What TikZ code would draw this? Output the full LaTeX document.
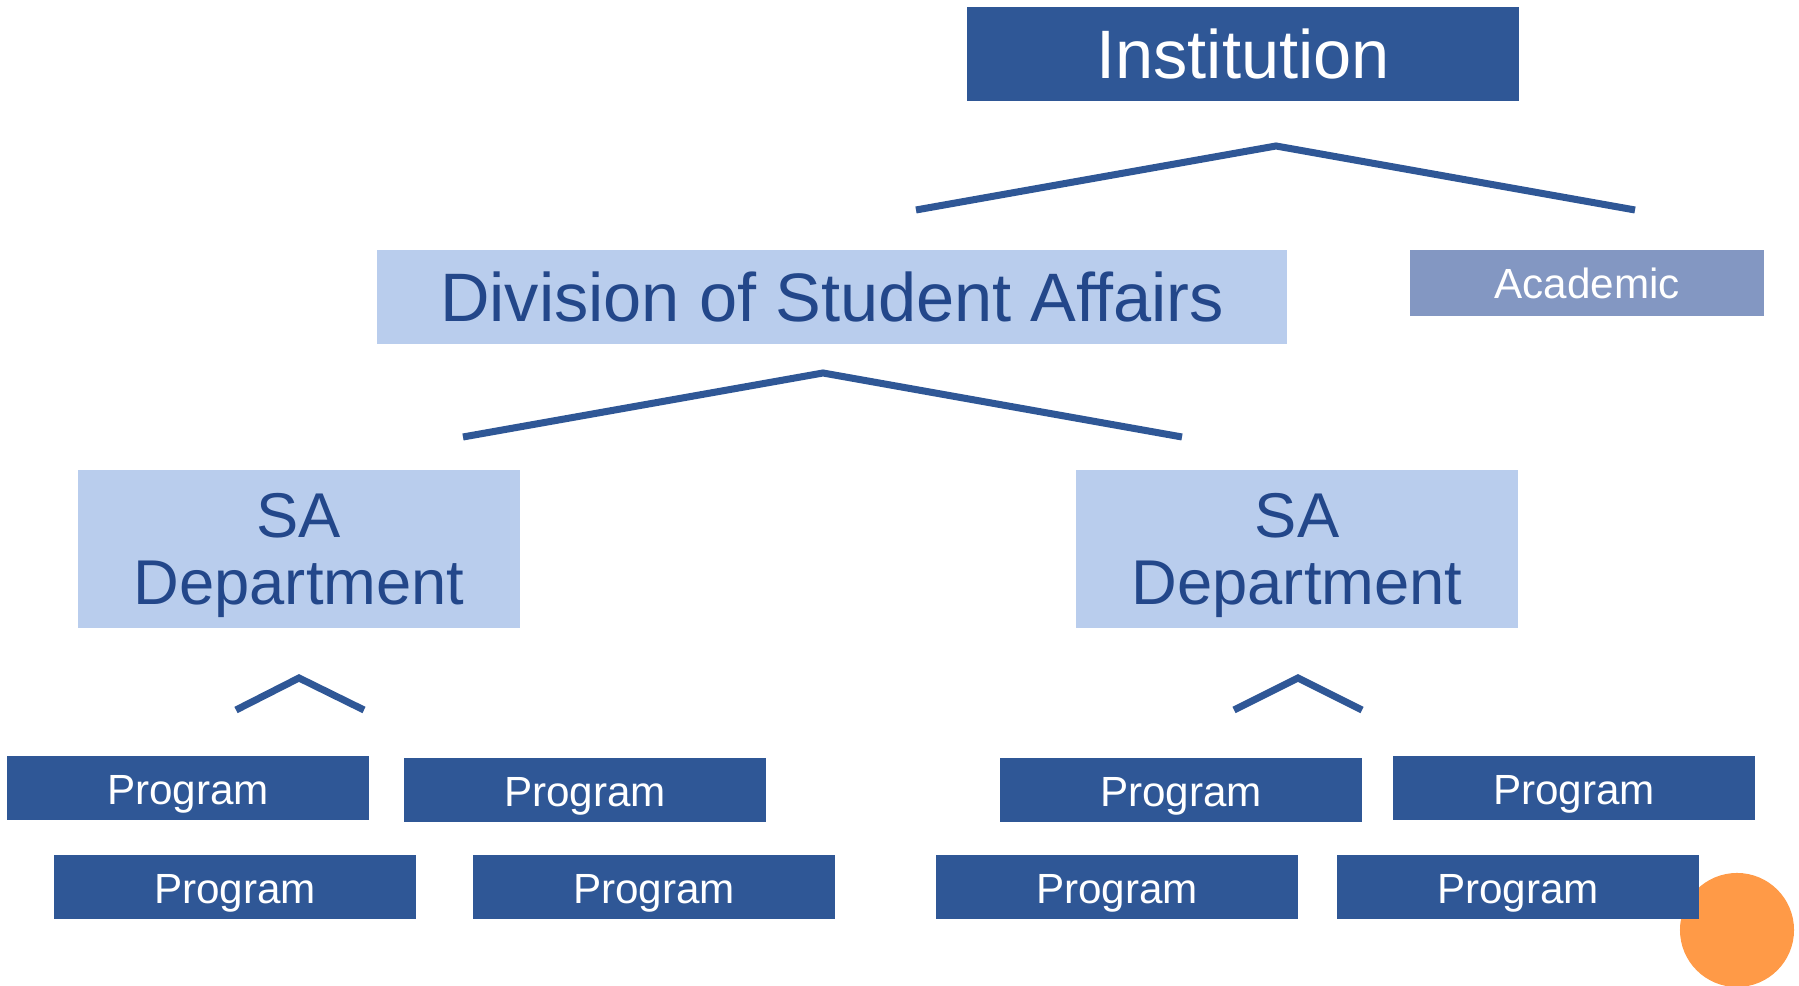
\documentclass[tikz,border=0pt]{standalone}
\usepackage{fontspec}
\setmainfont{Liberation Sans}
\definecolor{orgdark}{HTML}{2F5796}
\definecolor{orglight}{HTML}{B9CDED}
\definecolor{orgmid}{HTML}{8397C2}
\definecolor{orgtext}{HTML}{23478A}
\definecolor{dotorange}{HTML}{FF9A47}
\begin{document}
\begin{tikzpicture}[x=0.01cm,y=-0.01cm,
        darkbox/.style={fill=orgdark,text=white,inner sep=0pt},
        lightbox/.style={fill=orglight,text=orgtext,inner sep=0pt},
        prog/.style={darkbox,minimum width=3.61cm,minimum height=0.64cm,text height=9.4pt,text depth=0pt,font=\fontsize{12}{14}\selectfont},
        dept/.style={lightbox,minimum width=4.42cm,minimum height=1.58cm,align=center,text depth=0pt,font=\fontsize{18}{19}\selectfont},
        link/.style={draw=orgdark,line width=2pt}]
            \useasboundingbox(0,0)rectangle(1799,986);
            \fill[dotorange](1737,930)circle[radius=0.57cm];
            % top level
            \node[darkbox,minimum width=5.51cm,minimum height=0.94cm,font=\fontsize{19.5}{22}\selectfont]at(1243,54)(inst){Institution};
            \node[lightbox,minimum width=9.10cm,minimum height=0.93cm,font=\fontsize{19.5}{22}\selectfont]at(832,297)(div){Division of Student Affairs};
            \node[fill=orgmid,text=white,inner sep=0pt,minimum width=3.53cm,minimum height=0.65cm,font=\fontsize{12}{14}\selectfont]at(1587,283)(acad){Academic};
            \node[dept]at(299,549)(deptL){SA\\Department};
            \node[dept]at(1297,549)(deptR){SA\\Department};
            % programs
            \node[prog]at(188,788)(progLa){Program};
            \node[prog]at(585,790)(progLb){Program};
            \node[prog]at(235,887)(progLc){Program};
            \node[prog]at(654,887)(progLd){Program};
            \node[prog]at(1181,790)(progRa){Program};
            \node[prog]at(1574,788)(progRb){Program};
            \node[prog]at(1117,887)(progRc){Program};
            \node[prog]at(1518,887)(progRd){Program};
            % connectors
            \coordinate(instTop)at(1276,146);
            \coordinate(instL)at(916,210);
            \coordinate(instR)at(1635,210);
            \coordinate(divTop)at(823,373);
            \coordinate(divL)at(463,437);
            \coordinate(divR)at(1182,437);
            \coordinate(deptLTop)at(299,678);
            \coordinate(deptLl)at(236,710);
            \coordinate(deptLr)at(364,710);
            \coordinate(deptRTop)at(1298,678);
            \coordinate(deptRl)at(1234,710);
            \coordinate(deptRr)at(1362,710);
            \draw[link](instL)--(instTop)--(instR);
            \draw[link](divL)--(divTop)--(divR);
            \draw[link](deptLl)--(deptLTop)--(deptLr);
            \draw[link](deptRl)--(deptRTop)--(deptRr);
        \end{tikzpicture}
\end{document}
